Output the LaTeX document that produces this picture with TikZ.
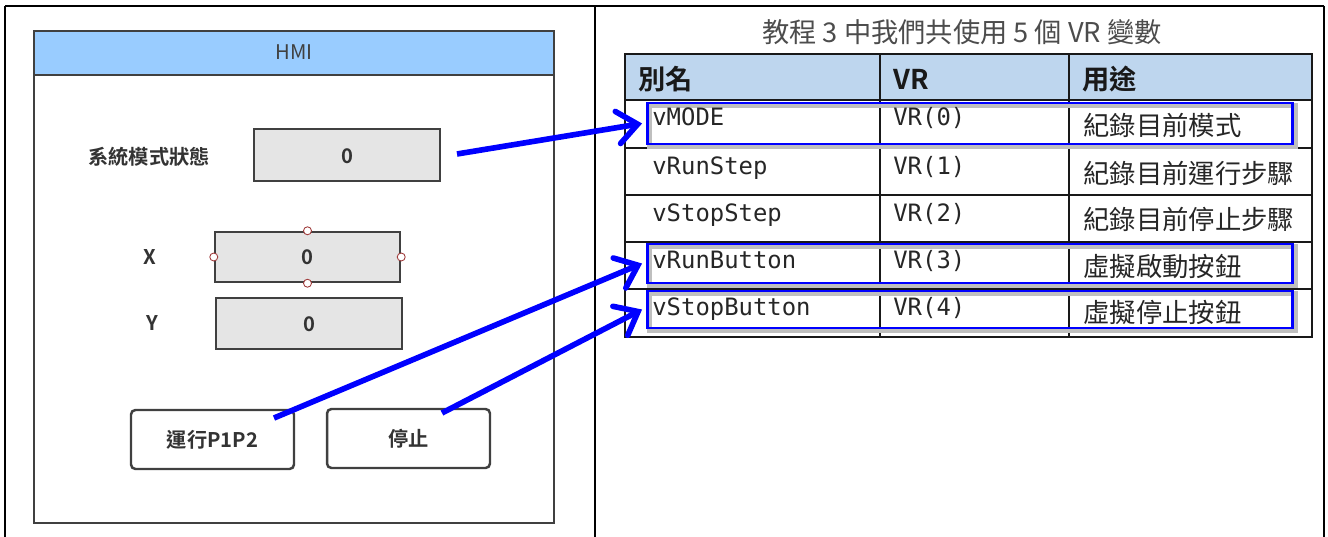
\documentclass[tikz,border=0pt]{standalone}
\usepackage{fontspec}
\setmainfont{Noto Sans CJK TC}[BoldFont={Noto Sans CJK TC Bold}]
\setmonofont{DejaVu Sans Mono}
\usetikzlibrary{arrows.meta}
\definecolor{hmiblue}{RGB}{153,204,255}
\definecolor{headblue}{RGB}{190,214,238}
\definecolor{boxgray}{RGB}{229,229,229}
\definecolor{linegray}{RGB}{64,64,64}
\definecolor{handlered}{RGB}{160,60,60}
\tikzset{
  hmibox/.style={draw=linegray, line width=1.4pt, fill=boxgray, inner sep=0pt},
  hmibtn/.style={draw=linegray, line width=1.4pt, fill=white, rounded corners=2.5pt, inner sep=0pt, minimum width=3.26cm, minimum height=1.18cm},
  hmitxt/.style={text=black!80, font=\fontsize{11.5}{13}\selectfont\bfseries},
  handle/.style={circle, draw=handlered, fill=white, line width=0.5pt, minimum size=0.16cm, inner sep=0pt},
  hilite/.style={draw=blue, line width=1.7pt, minimum width=12.92cm, inner sep=0pt,
    preaction={draw=black!25, line width=3pt, transform canvas={shift={(1.4pt,-1.4pt)}}}},
  link/.style={draw=blue, line width=3.2pt, -{Straight Barb[length=4mm, width=6.5mm, line cap=round]}},
  codetxt/.style={anchor=base west, inner sep=0pt, text=black!85, font=\ttfamily\fontsize{13.6}{15}\selectfont},
  usetxt/.style={anchor=base west, inner sep=0pt, text=black!85, font=\fontsize{15}{17}\selectfont},
  headtxt/.style={anchor=base west, inner sep=0pt, text=black!90, font=\fontsize{15.5}{17}\selectfont\bfseries},
  grid/.style={draw=black!90, line width=0.6pt},
}
\begin{document}
\begin{tikzpicture}[x=0.02cm, y=-0.02cm]
    \useasboundingbox (0,0) rectangle (1328,537);

    % Frame
    \draw[line width=0.8pt] (5,6) -- (1324,6);
    \draw[line width=0.8pt] (5,6) -- (5,537);
    \draw[line width=0.8pt] (595,6) -- (595,537);
    \draw[line width=0.8pt] (1324,6) -- (1324,537);

    % HMI panel
    \node[draw=linegray, line width=1.5pt, fill=white, minimum width=10.4cm, minimum height=9.84cm, inner sep=0pt] (hmi) at (294,277) {};
    \node[draw=linegray, line width=1.5pt, fill=hmiblue, minimum width=10.4cm, minimum height=0.88cm, inner sep=0pt] (hmiHead) at (294,53) {};
    \node[text=black!75, font=\fontsize{11.5}{13}\selectfont] (hmiTitle) at (294,52) {HMI};

    \node[hmitxt] (modeLbl) at (149,157) {系統模式狀態};
    \node[hmibox, minimum width=3.72cm, minimum height=1.04cm] (modeBox) at (347,155) {};
    \node[hmitxt] (modeVal) at (347,156) {0};

    \node[hmitxt] (xLbl) at (150,257) {X};
    \node[hmibox, minimum width=3.7cm, minimum height=1.0cm] (xBox) at (307.5,257) {};
    \node[hmitxt] (xVal) at (307.5,257) {0};
    \node[handle] (xN) at (xBox.north) {};
    \node[handle] (xS) at (xBox.south) {};
    \node[handle] (xW) at (xBox.west) {};
    \node[handle] (xE) at (xBox.east) {};

    \node[hmitxt] (yLbl) at (152,323) {Y};
    \node[hmibox, minimum width=3.72cm, minimum height=1.02cm] (yBox) at (309,323.5) {};
    \node[hmitxt] (yVal) at (309,324) {0};

    \node[hmibtn] (runBtn) at (212.5,439.5) {};
    \node[hmitxt] (runLbl) at (212.5,440) {運行P1P2};
    \node[hmibtn] (stopBtn) at (408.5,438.5) {};
    \node[hmitxt] (stopLbl) at (408.5,439) {停止};

    % Table
    \node[anchor=base, text=black!70, font=\fontsize{15.5}{17}\selectfont] (title) at (962,43) {教程 3 中我們共使用 5 個 VR 變數};
    \fill[headblue] (625,54) rectangle (1312,100);
    \draw[grid] (625,54) rectangle (1312,337);
    \draw[grid] (625,100) -- (1312,100);
    \draw[grid] (625,148) -- (1312,148);
    \draw[grid] (625,195) -- (1312,195);
    \draw[grid] (625,242) -- (1312,242);
    \draw[grid] (625,289) -- (1312,289);
    \draw[grid] (880,54) -- (880,337);
    \draw[grid] (1069,54) -- (1069,337);

    \node[hilite, minimum height=0.82cm] (hlMode) at (970,123.5) {};
    \node[hilite, minimum height=0.78cm] (hlRun) at (970,263.5) {};
    \node[hilite, minimum height=0.74cm] (hlStop) at (970,309.5) {};

    \node[headtxt] (hAlias) at (638,90) {別名};
    \node[headtxt] (hVR) at (893,90) {VR};
    \node[headtxt] (hUse) at (1082,90) {用途};

    \node[codetxt] (alias0) at (652,126) {vMODE};
    \node[codetxt] (alias1) at (652,174) {vRunStep};
    \node[codetxt] (alias2) at (652,221) {vStopStep};
    \node[codetxt] (alias3) at (652,268) {vRunButton};
    \node[codetxt] (alias4) at (652,315) {vStopButton};

    \node[codetxt] (vr0) at (893,126) {VR(0)};
    \node[codetxt] (vr1) at (893,174) {VR(1)};
    \node[codetxt] (vr2) at (893,221) {VR(2)};
    \node[codetxt] (vr3) at (893,268) {VR(3)};
    \node[codetxt] (vr4) at (893,315) {VR(4)};

    \node[usetxt] (use0) at (1083,135) {紀錄目前模式};
    \node[usetxt] (use1) at (1083,183) {紀錄目前運行步驟};
    \node[usetxt] (use2) at (1083,229) {紀錄目前停止步驟};
    \node[usetxt] (use3) at (1083,276) {虛擬啟動按鈕};
    \node[usetxt] (use4) at (1083,322) {虛擬停止按鈕};

    % Arrows
    \coordinate (modeOut) at (457,154);
    \coordinate (runOut) at (274,418);
    \coordinate (stopOut) at (442,413);
    \draw[link] (modeOut) -- ([xshift=-2pt]hlMode.west);
    \draw[link] (runOut) -- ([xshift=-2pt]hlRun.west);
    \draw[link] (stopOut) -- ([xshift=-2pt]hlStop.west);
\end{tikzpicture}
\end{document}
